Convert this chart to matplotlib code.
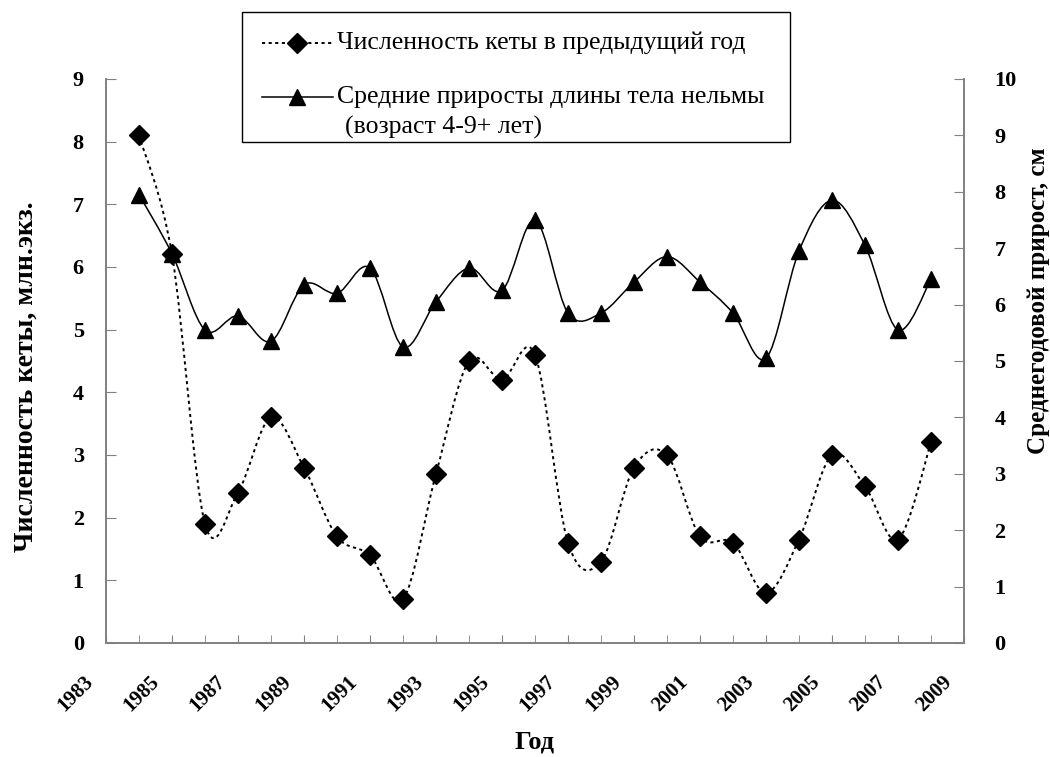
import matplotlib
matplotlib.use("Agg")
import matplotlib.pyplot as plt
from matplotlib.path import Path
from matplotlib.patches import PathPatch, Rectangle
from matplotlib.lines import Line2D
from matplotlib.ticker import MultipleLocator
import matplotlib.transforms as mtransforms

plt.rcParams['font.family'] = ['Liberation Serif', 'DejaVu Serif']

years = [1984, 1985, 1986, 1987, 1988, 1989, 1990, 1991, 1992, 1993, 1994, 1995, 1996,
         1997, 1998, 1999, 2000, 2001, 2002, 2003, 2004, 2005, 2006, 2007, 2008]
# численность кеты в предыдущий год, млн.экз.
keta = [8.1, 6.2, 1.9, 2.4, 3.6, 2.8, 1.7, 1.4, 0.7, 2.7, 4.5, 4.2, 4.6,
        1.6, 1.3, 2.8, 3.0, 1.7, 1.6, 0.8, 1.65, 3.0, 2.5, 1.65, 3.2]
# средние приросты длины тела нельмы, см
prirost = [7.95, 6.9, 5.55, 5.8, 5.35, 6.35, 6.2, 6.65, 5.25, 6.05, 6.65, 6.25, 7.5,
           5.85, 5.85, 6.4, 6.85, 6.4, 5.85, 5.05, 6.95, 7.85, 7.05, 5.55, 6.45]

label_keta = 'Численность кеты в предыдущий год'
label_pr1 = 'Средние приросты длины тела нельмы'
label_pr2 = '(возраст 4-9+ лет)'

W, H = 1050, 757
GREY = '#808080'


def smooth_path(x, y):
    # excel-like smoothed line: cubic bezier segments (catmull-rom control points)
    n = len(x)
    verts = [(x[0], y[0])]
    codes = [Path.MOVETO]
    for i in range(n - 1):
        i0 = max(i - 1, 0)
        i3 = min(i + 2, n - 1)
        c1 = (x[i] + (x[i + 1] - x[i0]) / 6, y[i] + (y[i + 1] - y[i0]) / 6)
        c2 = (x[i + 1] - (x[i3] - x[i]) / 6, y[i + 1] - (y[i3] - y[i]) / 6)
        verts += [c1, c2, (x[i + 1], y[i + 1])]
        codes += [Path.CURVE4] * 3
    return Path(verts, codes)


fig = plt.figure(figsize=(W / 100, H / 100), dpi=100)
ax = fig.add_axes([106 / W, 1 - 643 / H, (964 - 106) / W, (643 - 79) / H])
ax2 = ax.twinx()

dotted = (0, (1.6, 1.8))
ax.add_patch(PathPatch(smooth_path(years, keta), fill=False, edgecolor='black',
                       linewidth=1.4, linestyle=dotted))
ax.plot(years, keta, linestyle='none', marker='D', markersize=10, color='black')

ax2.add_patch(PathPatch(smooth_path(years, prirost), fill=False, edgecolor='black',
                        linewidth=1.1))
ax2.plot(years, prirost, linestyle='none', marker='^', markersize=12, color='black')

ax.set_xlim(1983, 2009)
ax.set_ylim(0, 9)
ax2.set_ylim(0, 10)

ax.xaxis.set_major_locator(MultipleLocator(2))
ax.xaxis.set_minor_locator(MultipleLocator(1))
ax.yaxis.set_major_locator(MultipleLocator(1))
ax2.yaxis.set_major_locator(MultipleLocator(1))

for a in (ax, ax2):
    a.spines['top'].set_visible(False)
    for s in ('left', 'right', 'bottom'):
        a.spines[s].set_color(GREY)
        a.spines[s].set_linewidth(1.2)

ax.tick_params(axis='x', which='both', direction='in', length=6, color=GREY,
               labelsize=15, pad=21)
ax.tick_params(axis='y', direction='in', length=7, color=GREY, labelsize=16, pad=16)
ax2.tick_params(axis='y', direction='in', length=7, color=GREY, labelsize=16, pad=22)

ax.set_xticks(range(1983, 2010, 2))
ax.set_xticklabels([str(v) for v in range(1983, 2010, 2)])
offset = mtransforms.ScaledTranslation(-6 / 72, 0, fig.dpi_scale_trans)
for lab in ax.get_xticklabels():
    lab.set_rotation(45)
    lab.set_ha('right')
    lab.set_fontweight('bold')
    lab.set_transform(lab.get_transform() + offset)
for lab in ax.get_yticklabels() + ax2.get_yticklabels():
    lab.set_fontweight('bold')

fig.text(535 / W, 1 - 742 / H, 'Год', ha='center', va='center',
         fontsize=19, fontweight='bold')
fig.text(26 / W, 1 - 377 / H, 'Численность кеты, млн.экз.', ha='center', va='center',
         rotation=90, fontsize=20, fontweight='bold')
fig.text(1038 / W, 1 - 301 / H, 'Среднегодовой прирост, см', ha='center', va='center',
         rotation=90, fontsize=18, fontweight='bold')

# legend box
fig.add_artist(Rectangle((242 / W, 1 - 142 / H), (790 - 242) / W, (142 - 12) / H,
                         transform=fig.transFigure, facecolor='white',
                         edgecolor='black', linewidth=1.0))
hx = [262 / W, 297 / W, 333 / W]
y1 = 1 - 43 / H
y2 = 1 - 97 / H
fig.add_artist(Line2D(hx, [y1] * 3, transform=fig.transFigure, color='black',
                      linewidth=1.4, linestyle=dotted, marker='D', markersize=10,
                      markevery=[1]))
fig.add_artist(Line2D(hx, [y2] * 3, transform=fig.transFigure, color='black',
                      linewidth=1.1, marker='^', markersize=12, markevery=[1]))
fig.text(337 / W, y1, label_keta, ha='left', va='center', fontsize=18.5)
fig.text(337 / W, y2, label_pr1, ha='left', va='center', fontsize=18.5)
fig.text(345 / W, 1 - 127 / H, label_pr2, ha='left', va='center', fontsize=18.5)

fig.savefig('out.png', dpi=100)
